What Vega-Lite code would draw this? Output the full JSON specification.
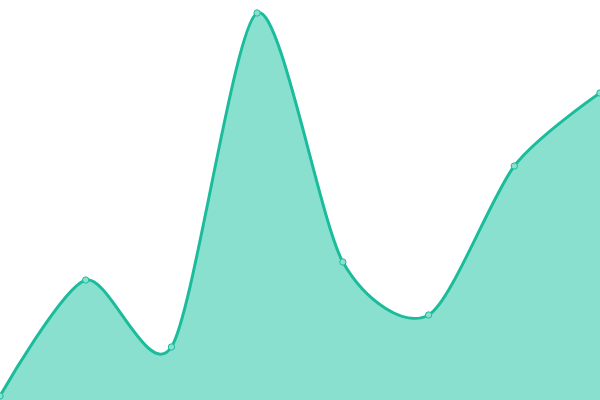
{
  "$schema": "https://vega.github.io/schema/vega-lite/v6.json",
  "autosize": {"type": "none"},
  "width": 600,
  "height": 400,
  "padding": 0,
  "background": "white",
  "config": {"view": {"stroke": null}},
  "data": {"values": [
    {"i": 0, "v": 4},
    {"i": 1, "v": 120},
    {"i": 2, "v": 53},
    {"i": 3, "v": 387},
    {"i": 4, "v": 138},
    {"i": 5, "v": 85},
    {"i": 6, "v": 234},
    {"i": 7, "v": 307}
  ]},
  "encoding": {
    "x": {"field": "i", "type": "quantitative", "scale": {"domain": [0, 7], "nice": false}, "axis": null},
    "y": {"field": "v", "type": "quantitative", "scale": {"domain": [0, 400], "nice": false}, "axis": null}
  },
  "layer": [
    {"mark": {"type": "area", "interpolate": "cardinal", "tension": 0.2, "color": "#8ae0cf", "opacity": 1}},
    {"mark": {"type": "line", "interpolate": "cardinal", "tension": 0.2, "color": "#1abc9c", "strokeWidth": 3}},
    {"mark": {"type": "point", "filled": true, "fill": "#8ae0cf", "stroke": "#1abc9c", "strokeWidth": 1, "size": 40, "opacity": 1}}
  ]
}
